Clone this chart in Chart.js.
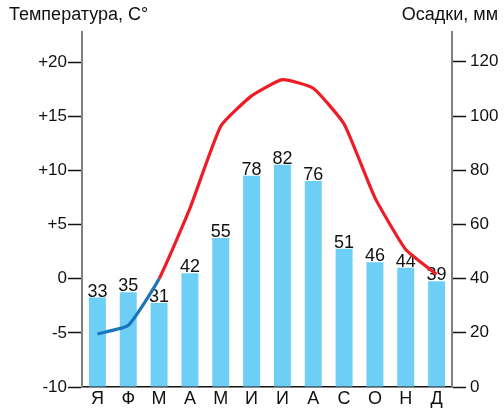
<!DOCTYPE html>
<html>
<head>
<meta charset="utf-8">
<script src="https://cdn.jsdelivr.net/npm/chart.js@4/dist/chart.umd.min.js"></script>
<style>
  html, body { margin: 0; padding: 0; background: #fff; }
  canvas { display: block; }
</style>
</head>
<body>
<canvas id="climateChart" width="504" height="411"></canvas>
<script>
// месяцы и данные
const months = ['Я', 'Ф', 'М', 'А', 'М', 'И', 'И', 'А', 'С', 'О', 'Н', 'Д'];
const temperature = [-5.1, -4.3, 0, 6.5, 14.1, 16.9, 18.4, 17.6, 14.3, 7.5, 2.7, 0.4];
const precipitation = [33, 35, 31, 42, 55, 78, 82, 76, 51, 46, 44, 39];
const tempTicks = [-10, -5, 0, 5, 10, 15, 20];
const precipTicks = [0, 20, 40, 60, 80, 100, 120];

const FONT = 'Liberation Sans, Arial, sans-serif';

// подписи над столбиками
const barLabels = {
    id: 'barLabels',
    afterDatasetDraw(chart, args) {
        if (args.index !== 0) return;
        const ctx = chart.ctx;
        ctx.save();
        ctx.font = '18px ' + FONT;
        ctx.fillStyle = '#111';
        ctx.textAlign = 'center';
        ctx.textBaseline = 'alphabetic';
        args.meta.data.forEach((bar, i) => {
            ctx.fillText(precipitation[i], bar.x, bar.y - 1);
        });
        ctx.restore();
    }
};

// заголовки осей
const axisTitles = {
    id: 'axisTitles',
    afterDraw(chart) {
        const ctx = chart.ctx;
        ctx.save();
        ctx.font = '18px ' + FONT;
        ctx.fillStyle = '#111';
        ctx.textBaseline = 'alphabetic';
        ctx.textAlign = 'left';
        ctx.fillText('Температура, С°', 9, 20);
        ctx.textAlign = 'right';
        ctx.fillText('Осадки, мм', 498, 20);
        ctx.restore();
    }
};

const ctx = document.getElementById('climateChart').getContext('2d');
new Chart(ctx, {
    data: {
        labels: months,
        datasets: [{
            type: 'bar',
            label: 'Осадки',
            data: precipitation,
            yAxisID: 'y2',
            backgroundColor: '#6dcff6',
            barPercentage: 0.55,
            categoryPercentage: 1,
            order: 1
        }, {
            type: 'line',
            label: 'Температура',
            data: temperature,
            yAxisID: 'y',
            borderWidth: 3.2,
            borderColor: '#ee1c24',
            pointRadius: 0,
            tension: 0.15,
            segment: {
                borderColor: c => c.p1.parsed.y <= 0 ? '#1b75bc' : '#ee1c24'
            },
            order: 0
        }]
    },
    options: {
        responsive: false,
        animation: false,
        layout: { padding: { top: 32 } },
        plugins: {
            legend: { display: false },
            tooltip: { enabled: false }
        },
        scales: {
            x: {
                grid: { display: false, drawTicks: false },
                border: { display: true, color: '#111', width: 1.5 },
                ticks: { color: '#111', font: { family: FONT, size: 18, lineHeight: 1 }, padding: 3 },
                afterFit: s => { s.height = 24; }
            },
            y: {
                position: 'left',
                min: -10,
                max: 22.8,
                afterBuildTicks: s => { s.ticks = tempTicks.map(v => ({ value: v })); },
                ticks: {
                    color: '#111',
                    font: { family: FONT, size: 17 },
                    padding: 1,
                    callback: v => v > 0 ? '+' + v : String(v)
                },
                grid: { drawOnChartArea: false, tickLength: 14, tickColor: '#111', tickWidth: 1.5 },
                border: { color: '#808080', width: 2 },
                afterFit: s => { s.width = 82; }
            },
            y2: {
                position: 'right',
                min: 0,
                max: 131,
                afterBuildTicks: s => { s.ticks = precipTicks.map(v => ({ value: v })); },
                ticks: { color: '#111', font: { family: FONT, size: 17 }, padding: 4 },
                grid: { drawOnChartArea: false, tickLength: 14, tickColor: '#111', tickWidth: 1.5 },
                border: { color: '#808080', width: 2 },
                afterFit: s => { s.width = 52; }
            }
        }
    },
    plugins: [barLabels, axisTitles]
});
</script>
</body>
</html>
